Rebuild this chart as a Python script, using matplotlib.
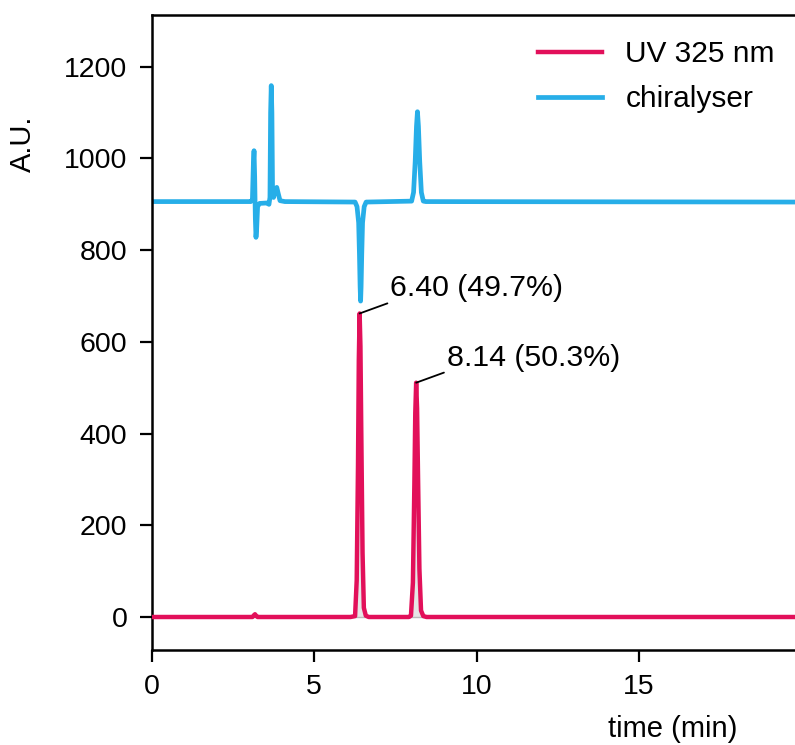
import numpy as np
import matplotlib.pyplot as plt

plt.rcParams['font.family'] = ['Liberation Sans', 'DejaVu Sans']

# UV 325 nm trace (time in min, signal in A.U.)
uv_time = [0.0, 3.10, 3.15, 3.18, 3.21, 3.26, 6.12, 6.26, 6.31, 6.35, 6.375, 6.40,
           6.425, 6.45, 6.49, 6.53, 6.59, 6.68, 7.92, 7.98, 8.04, 8.085, 8.113, 8.14,
           8.168, 8.196, 8.24, 8.29, 8.36, 8.46, 19.8]
uv_signal = [0, 0, 4, 6, 3, 0, 0, 2, 80, 330, 560, 662,
             590, 410, 140, 20, 3, 0, 0, 3, 75, 290, 445, 511,
             455, 315, 105, 14, 2, 0, 0]

# chiralyser trace
chir_time = [0.0, 3.05, 3.10, 3.13, 3.15, 3.17, 3.19, 3.21, 3.23, 3.26, 3.32, 3.55,
             3.61, 3.64, 3.66, 3.68, 3.70, 3.72, 3.75, 3.80, 3.85, 3.89, 3.95, 4.10,
             6.26, 6.32, 6.37, 6.395, 6.415, 6.43, 6.445, 6.465, 6.49, 6.54, 6.60,
             8.00, 8.06, 8.11, 8.15, 8.18, 8.21, 8.25, 8.30, 8.36, 8.44, 19.8]
chir_signal = [906, 906, 910, 990, 1017, 960, 870, 828, 845, 895, 902, 903,
               900, 915, 1100, 1159, 1100, 930, 915, 930, 937, 925, 908, 906,
               905, 895, 860, 790, 720, 689, 720, 790, 860, 895, 905,
               907, 926, 993, 1070, 1102, 1070, 993, 926, 907, 906, 905]

peak_times = [6.40, 8.14]
peak_heights = [662, 511]
peak_labels = ['6.40 (49.7%)', '8.14 (50.3%)']

uv_color = '#e2105a'
chir_color = '#27aee8'

fig = plt.figure(figsize=(7.95, 7.45), dpi=100)
ax = fig.add_axes([0.1908, 0.1275, 0.8092, 0.8524])

ax.fill_between(uv_time, 0, uv_signal, color='#e6e6e6', lw=0, zorder=1)
ax.axhline(0, color='#bbbbbb', lw=1.0, zorder=1)
ax.plot(uv_time, uv_signal, color=uv_color, lw=3.2, label='UV 325 nm', zorder=3)
ax.plot(chir_time, chir_signal, color=chir_color, lw=3.4, label='chiralyser', zorder=2)

for t, h, lab in zip(peak_times, peak_heights, peak_labels):
    ax.annotate(lab, xy=(t, h), xytext=(22, 8), textcoords='offset points',
                fontsize=21.8, ha='left', va='bottom',
                arrowprops=dict(arrowstyle='-', color='black', lw=1.3,
                                shrinkA=0, shrinkB=0, relpos=(0, 0)))

ax.set_xlim(0, 19.8)
ax.set_ylim(-72, 1313)
ax.set_xticks([0, 5, 10, 15])
ax.set_yticks([0, 200, 400, 600, 800, 1000, 1200])

ax.spines['right'].set_visible(False)
for s in ['left', 'bottom', 'top']:
    ax.spines[s].set_linewidth(1.8)
ax.tick_params(axis='both', labelsize=20.5, length=8.5, width=1.6, pad=9)

ax.set_xlabel('time (min)', fontsize=21)
ax.xaxis.set_label_coords(0.81, -0.102)
ax.set_ylabel('A.U.', fontsize=21)
ax.yaxis.set_label_coords(-0.178, 0.797)

ax.legend(loc='upper left', bbox_to_anchor=(538 / 795, 1 - 40 / 745),
          bbox_transform=fig.transFigure, frameon=False, borderpad=0,
          borderaxespad=0, fontsize=21.5, handlelength=2.15,
          handletextpad=0.78, labelspacing=0.58)

plt.savefig('out.png', dpi=100)
